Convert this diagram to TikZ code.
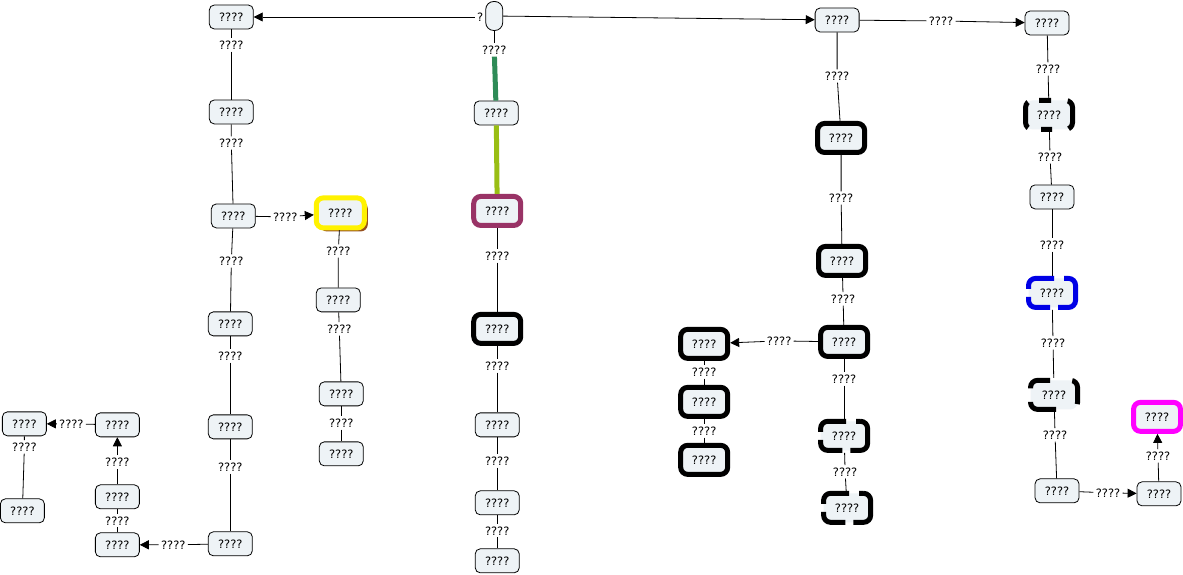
\documentclass[tikz,border=0pt]{standalone}
\usepackage{fontspec}
\setmainfont{DejaVu Sans}
\usetikzlibrary{arrows.meta,shadows}
\definecolor{cfill}{RGB}{238,243,246}
\definecolor{cgreen}{RGB}{46,139,87}
\definecolor{clime}{RGB}{153,190,20}
\definecolor{cmaroon}{RGB}{153,51,102}
\definecolor{cyellow}{RGB}{255,242,0}
\definecolor{cshadow}{RGB}{150,80,30}
\definecolor{cblue}{RGB}{0,0,230}
\definecolor{cmagenta}{RGB}{255,0,255}

\tikzset{
  concept/.style={draw, rounded corners=5pt, fill=cfill, minimum width=44pt,
    minimum height=24pt, inner sep=1pt, line width=0.8pt},
  bold concept/.style={concept, line width=5pt, minimum width=47pt,
    minimum height=29pt, rounded corners=7pt},
  broken concept/.style={bold concept,
    dash pattern=on 33pt off 8pt on 29pt off 8pt on 52pt off 10pt, dash phase=125.5pt},
  lnk/.style={inner sep=2pt},
  arr/.style={-{Triangle[length=9pt,width=9pt]}},
}

\begin{document}
\begin{tikzpicture}[x=1pt, y=-1pt, font=\fontsize{11.5}{13}\selectfont, line width=0.8pt]
  \fill[white] (0,0) rectangle (1183,575);

  % Root
  \node[concept, minimum width=17pt, minimum height=29pt, rounded corners=8pt] (root) at (494,16) {};
  \node[lnk] (q) at (480,17) {?};
  \node[lnk] (l0) at (494,50) {????};

  % Left column
  \node[concept] (a1) at (231,17) {????};
  \node[concept] (a2) at (231,112) {????};
  \node[concept] (a3) at (233,216) {????};
  \node[concept] (a4) at (230,324) {????};
  \node[concept] (a5) at (230,427) {????};
  \node[concept] (a6) at (230,544) {????};
  \node[lnk] (la1) at (231,45) {????};
  \node[lnk] (la2) at (231,143) {????};
  \node[lnk] (la3) at (231,261) {????};
  \node[lnk] (la4) at (230,356) {????};
  \node[lnk] (la5) at (230,467) {????};
  \node[lnk] (la6) at (173,545) {????};

  % Bottom left
  \node[concept] (b1) at (117,545) {????};
  \node[concept] (b2) at (117,497) {????};
  \node[concept] (b3) at (117,425) {????};
  \node[concept] (c1) at (24,424) {????};
  \node[concept] (c2) at (22,511) {????};
  \node[lnk] (lb1) at (117,521) {????};
  \node[lnk] (lb2) at (117,462) {????};
  \node[lnk] (lb3) at (71,424) {????};
  \node[lnk] (lc1) at (24,447) {????};

  % Yellow branch
  \node[lnk] (ly) at (285,217) {????};
  \node[concept, draw=cyellow, line width=5pt, minimum width=48pt, minimum height=30pt,
    rounded corners=7pt, drop shadow={fill=cshadow, shadow xshift=3.5pt, shadow yshift=-3.5pt, opacity=1}]
    (y1) at (340,213) {????};
  \node[concept] (y2) at (338,300) {????};
  \node[concept] (y3) at (341,394) {????};
  \node[concept] (y4) at (341,454) {????};
  \node[lnk] (ly1) at (338,251) {????};
  \node[lnk] (ly2) at (339,329) {????};
  \node[lnk] (ly3) at (341,423) {????};

  % Centre column
  \node[concept] (m1) at (496,113) {????};
  \node[bold concept, draw=cmaroon] (m2) at (497,211) {????};
  \node[bold concept] (m3) at (497,329) {????};
  \node[concept] (m4) at (497,425) {????};
  \node[concept] (m5) at (497,503) {????};
  \node[concept] (m6) at (497,561) {????};
  \node[lnk] (lm2) at (497,256) {????};
  \node[lnk] (lm3) at (497,366) {????};
  \node[lnk] (lm4) at (497,461) {????};
  \node[lnk] (lm5) at (497,531) {????};

  % Right column
  \node[concept] (r1) at (837,20) {????};
  \node[bold concept] (r2) at (841,138) {????};
  \node[bold concept] (r3) at (842,261) {????};
  \node[bold concept] (r4) at (844,342) {????};
  \node[broken concept] (r5) at (844,436) {????};
  \node[broken concept] (r6) at (847,508) {????};
  \node[lnk] (lr1) at (941,21) {????};
  \node[lnk] (lr1b) at (837,76) {????};
  \node[lnk] (lr2) at (841,198) {????};
  \node[lnk] (lr3) at (843,299) {????};
  \node[lnk] (lr4) at (779,341) {????};
  \node[lnk] (lr5) at (844,379) {????};
  \node[lnk] (lr6) at (845,472) {????};
  \node[bold concept] (k1) at (704,344) {????};
  \node[bold concept] (k2) at (704,402) {????};
  \node[bold concept] (k3) at (704,460) {????};
  \node[lnk] (lk1) at (704,372) {????};
  \node[lnk] (lk2) at (704,431) {????};

  % Far right column
  \node[concept] (s1) at (1047,23) {????};
  \node[bold concept, dash pattern=on 12pt off 11.5pt on 27pt off 13.5pt on 11pt off 16.5pt on 31.5pt off 17pt,
    dash phase=125.5pt] (s2) at (1049,115) {????};
  \node[concept] (s3) at (1052,197) {????};
  \node[broken concept, draw=cblue] (s4) at (1052,293) {????};
  \node[bold concept, dash pattern=on 24.5pt off 13.5pt on 30pt off 23.5pt on 26pt off 22.5pt,
    dash phase=119.5pt] (s5) at (1054,395) {????};
  \node[concept] (s6) at (1057,491) {????};
  \node[concept] (t1) at (1159,494) {????};
  \node[bold concept, draw=cmagenta] (t2) at (1157,417) {????};
  \node[lnk] (ls1) at (1048,69) {????};
  \node[lnk] (ls2) at (1050,157) {????};
  \node[lnk] (ls3) at (1052,245) {????};
  \node[lnk] (ls4) at (1053,343) {????};
  \node[lnk] (ls5) at (1055,435) {????};
  \node[lnk] (ls6) at (1108,493) {????};
  \node[lnk] (lt1) at (1158,456) {????};

  % Links
  \draw[arr] (q) -- (a1);
  \draw[arr] (root) -- (r1);
  \draw (root) -- (l0);
  \draw[line width=5pt, cgreen] (l0) -- (m1);
  \draw[line width=5pt, clime] (m1) -- (m2);
  \draw (m2) -- (lm2) -- (m3);
  \draw (m3) -- (lm3) -- (m4);
  \draw (m4) -- (lm4) -- (m5);
  \draw (m5) -- (lm5) -- (m6);

  \draw (a1) -- (la1) -- (a2);
  \draw (a2) -- (la2) -- (a3);
  \draw (a3) -- (la3) -- (a4);
  \draw (a4) -- (la4) -- (a5);
  \draw (a5) -- (la5) -- (a6);
  \draw[arr] (a6) -- (la6) -- (b1);
  \draw (b1) -- (lb1) -- (b2);
  \draw[arr] (b2) -- (lb2) -- (b3);
  \draw[arr] (b3) -- (lb3) -- (c1);
  \draw (c1) -- (lc1) -- (c2);

  \draw[arr] (a3) -- (ly) -- (y1);
  \draw (y1) -- (ly1) -- (y2);
  \draw (y2) -- (ly2) -- (y3);
  \draw (y3) -- (ly3) -- (y4);

  \draw[arr] (r1) -- (lr1) -- (s1);
  \draw (r1) -- (lr1b) -- (r2);
  \draw (r2) -- (lr2) -- (r3);
  \draw (r3) -- (lr3) -- (r4);
  \draw[arr] (r4) -- (lr4) -- (k1);
  \draw (k1) -- (lk1) -- (k2);
  \draw (k2) -- (lk2) -- (k3);
  \draw (r4) -- (lr5) -- (r5);
  \draw (r5) -- (lr6) -- (r6);

  \draw (s1) -- (ls1) -- (s2);
  \draw (s2) -- (ls2) -- (s3);
  \draw (s3) -- (ls3) -- (s4);
  \draw (s4) -- (ls4) -- (s5);
  \draw (s5) -- (ls5) -- (s6);
  \draw[arr] (s6) -- (ls6) -- (t1);
  \draw[arr] (t1) -- (lt1) -- (t2);
\end{tikzpicture}
\end{document}
